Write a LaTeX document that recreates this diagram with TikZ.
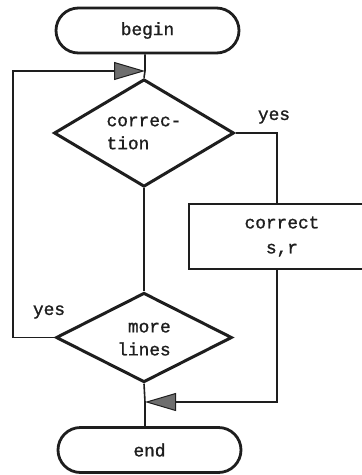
\documentclass[tikz,border=0pt]{standalone}
\usepackage{fontspec}
\setmonofont[FakeBold=1.2]{Liberation Mono}
\usetikzlibrary{shapes.geometric,shapes.misc,arrows.meta}
\definecolor{ink}{HTML}{1E1E1E}
\definecolor{tipfill}{HTML}{6E6E6E}
\tikzset{
  txt/.style={font=\ttfamily\fontsize{17.8}{23}\selectfont, text=ink},
  terminal/.style={rounded rectangle, draw=ink, line width=2.8pt,
    minimum width=183pt, minimum height=45pt, inner sep=0pt, txt},
  decision/.style={diamond, draw=ink, line width=3pt, inner sep=0pt,
    align=left, txt},
  process/.style={rectangle, draw=ink, line width=2.6pt, inner sep=0pt,
    minimum width=186pt, minimum height=65pt, align=center,
    font=\ttfamily\fontsize{17.8}{25}\selectfont, text=ink},
  flow/.style={draw=ink, line width=1.6pt},
  into/.style={flow, -{Triangle[length=31pt,width=18pt,fill=tipfill,line width=1pt]}},
  lbl/.style={txt, inner sep=0pt}
}
\begin{document}
\begin{tikzpicture}[x=1pt,y=-1pt]
  \clip (0,0) rectangle (362,475);
  \fill[white] (0,0) rectangle (362,475);

  % blocks
  \node[terminal] (begin) at (147.5,30.5) {begin\hspace{20pt}};
  \node[decision, minimum width=180pt, minimum height=87pt] (corr) at (144,133) {correc-\\tion};
  \node[process] (fix) at (282,236.5) {correct\\s,r};
  \node[decision, minimum width=176pt, minimum height=86pt] (more) at (144,337.5) {\phantom{l}more\\lines};
  \node[terminal] (end) at (149.5,450) {end\hspace{7pt}};

  % junctions on the main line
  \coordinate (jtop) at (145,71);
  \coordinate (jbot) at (145,402);
  \coordinate (rx) at (277,0);
  \coordinate (lx) at (13,0);

  % main line
  \draw[flow] (jtop |- begin.south) -- (jtop) -- (corr.north);
  \draw[flow] (corr.south) -- (more.north);
  \draw[flow] (more.south) -- (jbot) -- (jbot |- end.north);

  % correction branch
  \draw[flow] (corr.east) -- (rx |- corr.east) -- (rx |- fix.north);
  \draw[into] (rx |- fix.south) -- (rx |- jbot) -- (jbot);

  % loop back
  \draw[into] (more.west) -- (lx |- more.west) -- (lx |- jtop) -- (jtop);

  % branch labels
  \node[lbl] (yes1) at (274,117) {yes};
  \node[lbl] (yes2) at (49,312) {yes};
\end{tikzpicture}
\end{document}
